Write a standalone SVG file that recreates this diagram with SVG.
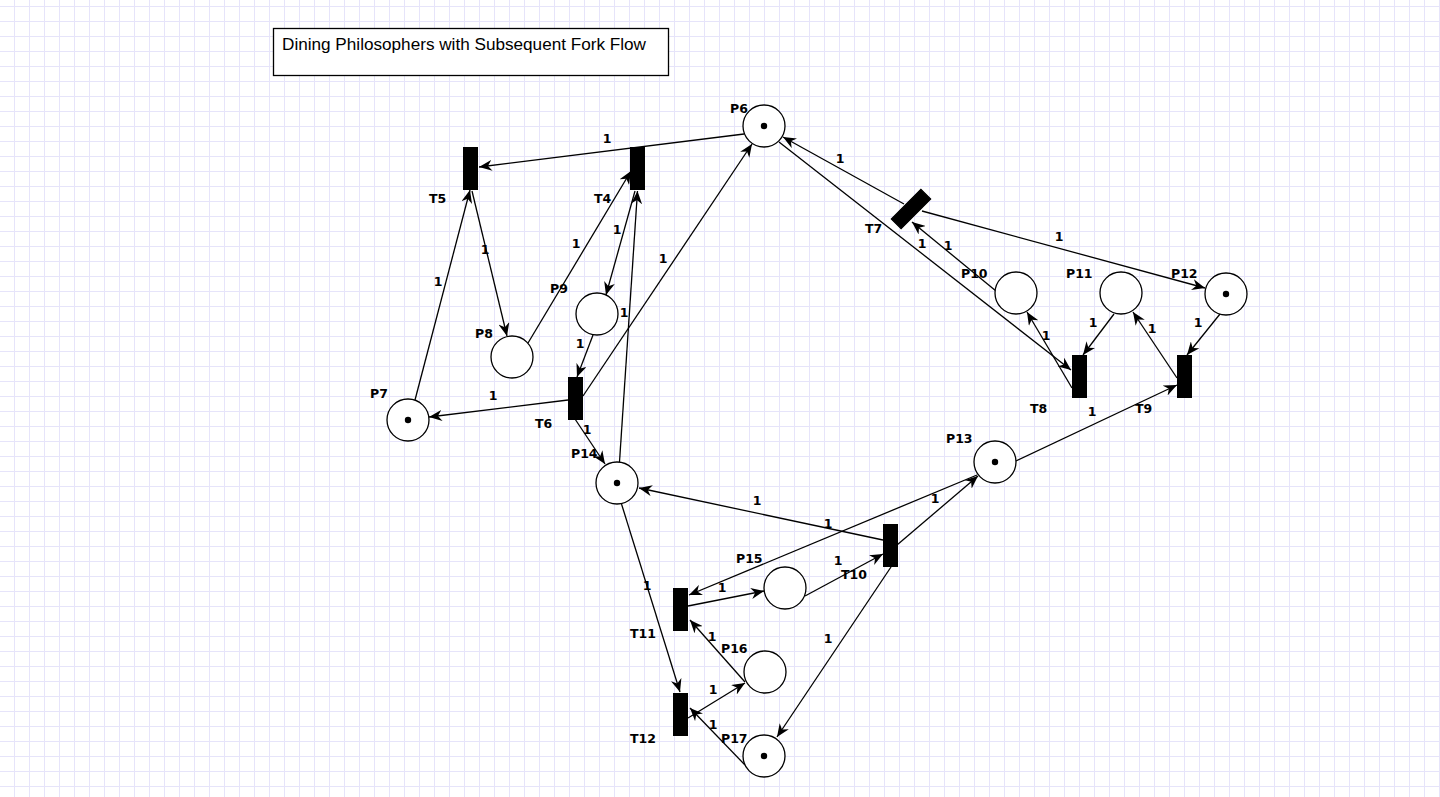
<svg xmlns="http://www.w3.org/2000/svg" width="1440" height="797" viewBox="0 0 1440 797">
<style>
.pl{fill:#fff;stroke:#000;stroke-width:1.3}
.tk{fill:#000}
.tr{fill:#000;stroke:#000;stroke-width:1}
.lb{font-family:"DejaVu Sans",sans-serif;font-weight:bold;font-size:12.5px;fill:#000}
.w{font-family:"DejaVu Sans",sans-serif;font-weight:bold;font-size:12.5px;fill:#000;text-anchor:middle}
.e{fill:none;stroke:#000;stroke-width:1.3;marker-end:url(#ah)}
</style>
<defs>
<pattern id="grid" x="14" y="6" width="15" height="15" patternUnits="userSpaceOnUse">
<path d="M0.5,0 V15 M0,0.5 H15" fill="none" stroke="#e6e4fa" stroke-width="1"/>
</pattern>
<marker id="ah" markerUnits="userSpaceOnUse" markerWidth="13" markerHeight="11" viewBox="0 0 13 11" refX="13" refY="5.5" orient="auto">
<path d="M0,0 L13,5.5 L0,11 L4,5.5 Z" fill="#000"/>
</marker>
</defs>
<rect width="1440" height="797" fill="#fff"/>
<rect width="1440" height="797" fill="url(#grid)"/>
<g id="title">
<rect x="273.5" y="28.5" width="395" height="47" fill="#fff" stroke="#000" stroke-width="1.3"/>
<text x="282" y="50" font-family="Liberation Sans, Arial, sans-serif" font-size="16" textLength="364" lengthAdjust="spacingAndGlyphs">Dining Philosophers with Subsequent Fork Flow</text>
</g>
<g id="connectors">
<path class="e" d="M744,134 L479,167"/>
<path class="e" d="M528,343 L631,171"/>
<path class="e" d="M635,191 L606,295"/>
<path class="e" d="M619.5,462 L637.5,191"/>
<path class="e" d="M415,400 L470,190"/>
<path class="e" d="M472,191 L507,336"/>
<path class="e" d="M593,335 L577,377"/>
<path class="e" d="M568,400 L429,417"/>
<path class="e" d="M583,396 L752,144"/>
<path class="e" d="M575,419 L605,464"/>
<path class="e" d="M904,204 L783,137"/>
<path class="e" d="M922,211 L1205,288"/>
<path class="e" d="M996,291 L912,222"/>
<path class="e" d="M779,142 L1071,370"/>
<path class="e" d="M1072,388 L1027,312"/>
<path class="e" d="M1114,314 L1083,355"/>
<path class="e" d="M1177,378 L1133,312"/>
<path class="e" d="M1220,314 L1187,355"/>
<path class="e" d="M1016,461 L1177,385"/>
<path class="e" d="M897,545 L978,476"/>
<path class="e" d="M977,475 L689,595"/>
<path class="e" d="M883,540 L639,488"/>
<path class="e" d="M688,606 L764,591"/>
<path class="e" d="M805,596 L883,554"/>
<path class="e" d="M891,567 L777,737"/>
<path class="e" d="M621.5,504 L680,692"/>
<path class="e" d="M745,682 L690,620"/>
<path class="e" d="M688,718 L745,683"/>
<path class="e" d="M745,765 L690,708"/>
<text class="w" x="607" y="143">1</text>
<text class="w" x="840" y="163">1</text>
<text class="w" x="1059" y="241">1</text>
<text class="w" x="922" y="248">1</text>
<text class="w" x="948" y="250">1</text>
<text class="w" x="485" y="254">1</text>
<text class="w" x="576" y="248">1</text>
<text class="w" x="617" y="234">1</text>
<text class="w" x="663" y="263">1</text>
<text class="w" x="438" y="286">1</text>
<text class="w" x="624" y="317">1</text>
<text class="w" x="1046" y="340">1</text>
<text class="w" x="1093" y="327">1</text>
<text class="w" x="1152" y="333">1</text>
<text class="w" x="1198" y="327">1</text>
<text class="w" x="493" y="400">1</text>
<text class="w" x="1092" y="416">1</text>
<text class="w" x="580" y="348">1</text>
<text class="w" x="587" y="434">1</text>
<text class="w" x="757" y="505">1</text>
<text class="w" x="828" y="528">1</text>
<text class="w" x="935" y="503">1</text>
<text class="w" x="722" y="592">1</text>
<text class="w" x="838" y="565">1</text>
<text class="w" x="647" y="590">1</text>
<text class="w" x="712" y="641">1</text>
<text class="w" x="828" y="643">1</text>
<text class="w" x="713" y="694">1</text>
<text class="w" x="713" y="729">1</text>
</g>
<g id="P6"><circle class="pl" cx="764" cy="126" r="21"/><circle class="tk" cx="764" cy="126" r="3.2"/><text class="lb" x="730" y="113">P6</text></g>
<g id="P7"><circle class="pl" cx="408" cy="420" r="21"/><circle class="tk" cx="408" cy="420" r="3.2"/><text class="lb" x="370" y="398">P7</text></g>
<g id="P8"><circle class="pl" cx="512" cy="357" r="21"/><text class="lb" x="475" y="338">P8</text></g>
<g id="P9"><circle class="pl" cx="597" cy="314" r="21"/><text class="lb" x="550" y="293">P9</text></g>
<g id="P10"><circle class="pl" cx="1016" cy="293" r="21"/><text class="lb" x="961" y="278">P10</text></g>
<g id="P11"><circle class="pl" cx="1121" cy="293" r="21"/><text class="lb" x="1066" y="278">P11</text></g>
<g id="P12"><circle class="pl" cx="1226" cy="294" r="21"/><circle class="tk" cx="1226" cy="294" r="3.2"/><text class="lb" x="1171" y="278">P12</text></g>
<g id="P13"><circle class="pl" cx="995" cy="462" r="21"/><circle class="tk" cx="995" cy="462" r="3.2"/><text class="lb" x="946" y="443">P13</text></g>
<g id="P14"><circle class="pl" cx="617" cy="483" r="21"/><circle class="tk" cx="617" cy="483" r="3.2"/><text class="lb" x="571" y="458">P14</text></g>
<g id="P15"><circle class="pl" cx="785" cy="588" r="21"/><text class="lb" x="736" y="563">P15</text></g>
<g id="P16"><circle class="pl" cx="765" cy="672" r="21"/><text class="lb" x="721" y="653">P16</text></g>
<g id="P17"><circle class="pl" cx="764" cy="756" r="21"/><circle class="tk" cx="764" cy="756" r="3.2"/><text class="lb" x="721" y="743">P17</text></g>
<g id="T4"><rect class="tr" x="630.5" y="147.5" width="14" height="42"/><text class="lb" x="594" y="203">T4</text></g>
<g id="T5"><rect class="tr" x="463.5" y="147.5" width="14" height="42"/><text class="lb" x="429" y="203">T5</text></g>
<g id="T6"><rect class="tr" x="568.5" y="377.5" width="14" height="42"/><text class="lb" x="535" y="428">T6</text></g>
<g id="T7"><rect class="tr" x="904" y="188" width="14" height="42" transform="rotate(45 911 209)"/><text class="lb" x="865" y="233">T7</text></g>
<g id="T8"><rect class="tr" x="1072.5" y="355.5" width="14" height="42"/><text class="lb" x="1030" y="413">T8</text></g>
<g id="T9"><rect class="tr" x="1177.5" y="355.5" width="14" height="42"/><text class="lb" x="1135" y="413">T9</text></g>
<g id="T10"><rect class="tr" x="883.5" y="524.5" width="14" height="42"/><text class="lb" x="841" y="579">T10</text></g>
<g id="T11"><rect class="tr" x="673.5" y="588.5" width="14" height="42"/><text class="lb" x="630" y="638">T11</text></g>
<g id="T12"><rect class="tr" x="673.5" y="693.5" width="14" height="42"/><text class="lb" x="630" y="743">T12</text></g>
</svg>
